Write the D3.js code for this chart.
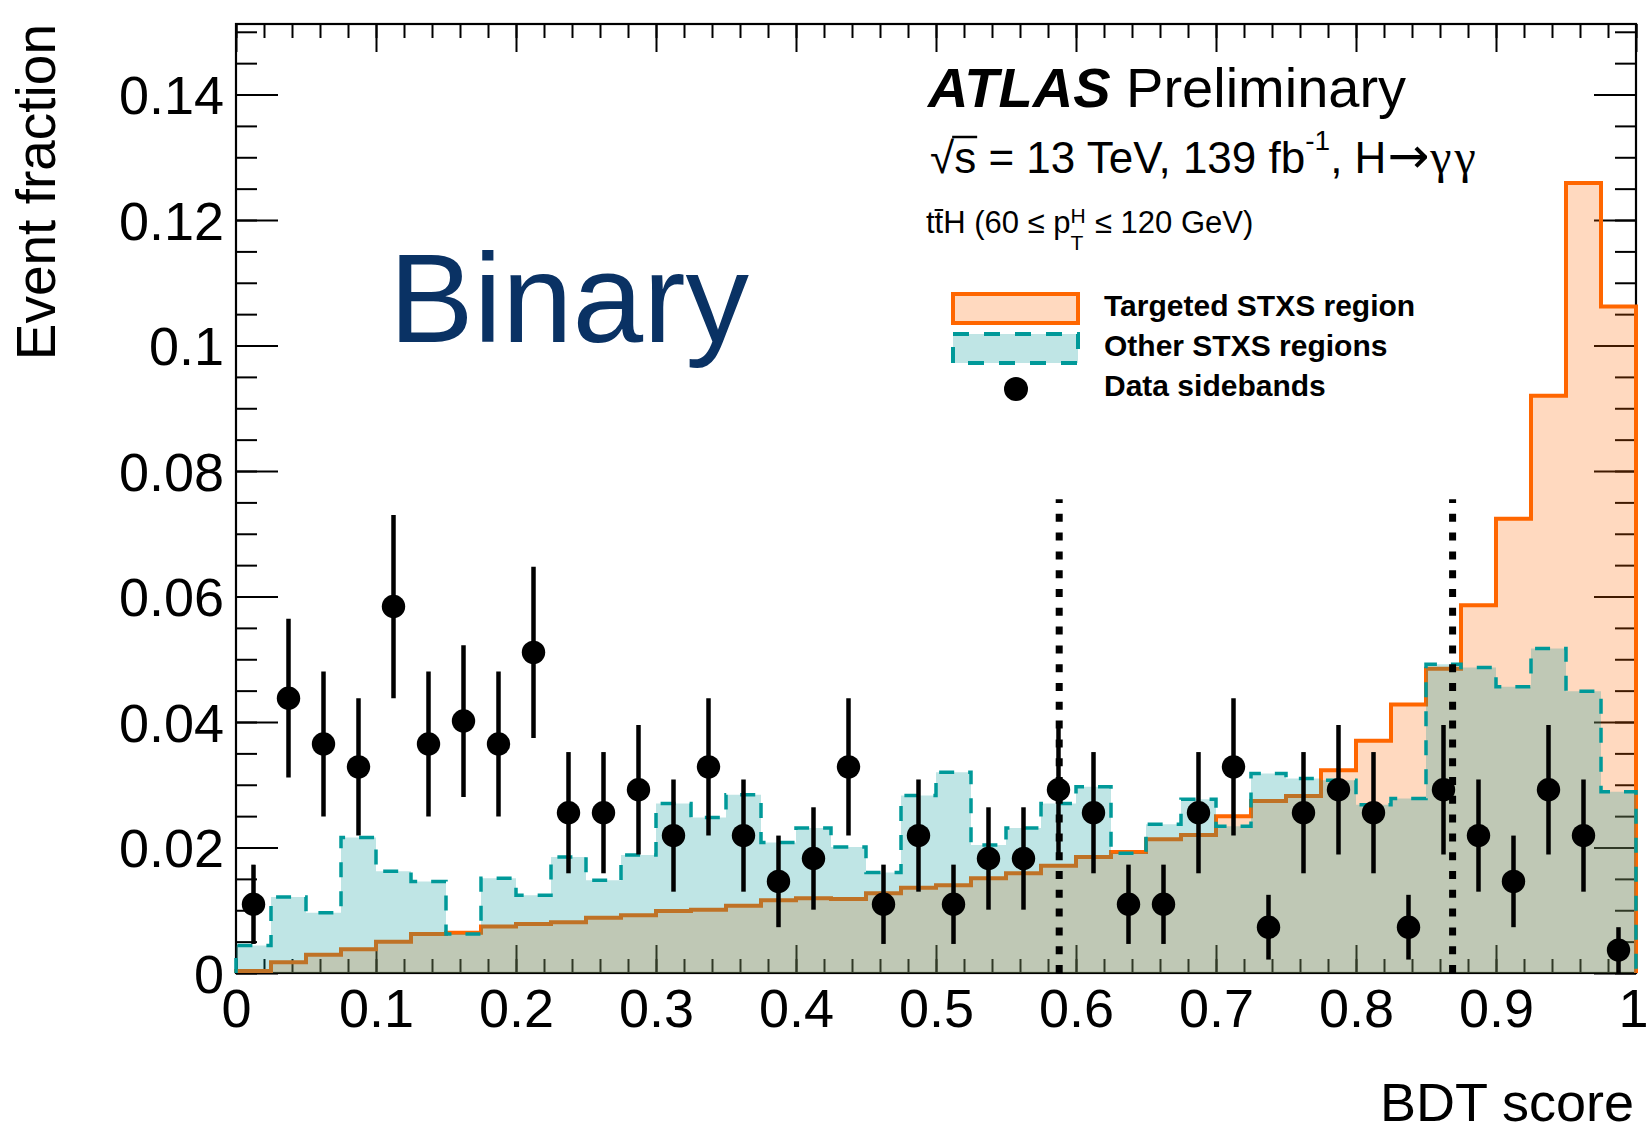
<!DOCTYPE html>
<html><head><meta charset="utf-8">
<script src="https://cdn.jsdelivr.net/npm/d3@7"></script>
<style>
html,body{margin:0;padding:0;background:#fff;}
svg{display:block;}
text{font-family:"Liberation Sans",Arial,Helvetica,sans-serif;}
</style></head><body>
<svg id="chart" width="1650" height="1134"></svg>
<script>
// ---- data ----
const binEdges = [0,0.025,0.05,0.075,0.1,0.125,0.15,0.175,0.2,0.225,0.25,0.275,0.3,0.325,0.35,0.375,0.4,0.425,0.45,0.475,0.5,0.525,0.55,0.575,0.6,0.625,0.65,0.675,0.7,0.725,0.75,0.775,0.8,0.825,0.85,0.875,0.9,0.925,0.95,0.975,1];
const targeted = [0.0003,0.0017,0.0029,0.0038,0.0050,0.0062,0.0064,0.0074,0.0078,0.0081,0.0088,0.0092,0.0099,0.0101,0.0107,0.0116,0.0119,0.0118,0.0127,0.0136,0.0140,0.0151,0.0159,0.0171,0.0185,0.0193,0.0213,0.0220,0.0250,0.0274,0.0282,0.0323,0.0370,0.0428,0.0485,0.0586,0.0724,0.0920,0.1259,0.1062];
const other = [0.0044,0.0121,0.0096,0.0216,0.0162,0.0146,0.0062,0.0151,0.0124,0.0185,0.0148,0.0188,0.0270,0.0248,0.0284,0.0208,0.0231,0.0201,0.0160,0.0283,0.0320,0.0204,0.0231,0.0270,0.0297,0.0191,0.0237,0.0277,0.0234,0.0318,0.0310,0.0307,0.0268,0.0278,0.0492,0.0487,0.0456,0.0517,0.0449,0.0289];
const dataVal = [0.01095,0.0438,0.0365,0.03285,0.0584,0.0365,0.04015,0.0365,0.0511,0.02555,0.02555,0.0292,0.0219,0.03285,0.0219,0.0146,0.01825,0.03285,0.01095,0.0219,0.01095,0.01825,0.01825,0.0292,0.02555,0.01095,0.01095,0.02555,0.03285,0.0073,0.02555,0.0292,0.02555,0.0073,0.0292,0.0219,0.0146,0.0292,0.0219,0.00365];
const dataErr = [0.00632,0.01264,0.01154,0.01095,0.0146,0.01154,0.0121,0.01154,0.01366,0.00966,0.00966,0.01032,0.00894,0.01095,0.00894,0.0073,0.00816,0.01095,0.00632,0.00894,0.00632,0.00816,0.00816,0.01032,0.00966,0.00632,0.00632,0.00966,0.01095,0.00516,0.00966,0.01032,0.00966,0.00516,0.01032,0.00894,0.0073,0.01032,0.00894,0.00365];
const cutLines = [0.588, 0.869];
const cutTop = 0.0755;
const xTicks = [0,0.1,0.2,0.3,0.4,0.5,0.6,0.7,0.8,0.9,1];
const xTickLabels = ["0","0.1","0.2","0.3","0.4","0.5","0.6","0.7","0.8","0.9","1"];
const yTicks = [0,0.02,0.04,0.06,0.08,0.1,0.12,0.14];
const yTickLabels = ["0","0.02","0.04","0.06","0.08","0.1","0.12","0.14"];
const legendLabels = ["Targeted STXS region","Other STXS regions","Data sidebands"];

// ---- layout ----
const L=236, R=1636, T=24, B=973;
const x = d3.scaleLinear().domain([0,1]).range([L,R]);
const y = d3.scaleLinear().domain([0,0.15124]).range([B,T]);
const svg = d3.select("#chart");
const ORANGE="#ff6600", TEAL="#009999";

const xMinor = d3.range(0,51).map(i=>+(i*0.02).toFixed(3));
const yMinor = d3.range(0,31).map(i=>+(i*0.005).toFixed(4));

function styleAxis(g){ g.select(".domain").remove(); g.selectAll("line").attr("stroke","#000").attr("stroke-width",2); }

// frame
svg.append("rect").attr("x",L).attr("y",T).attr("width",R-L).attr("height",B-T)
  .attr("fill","none").attr("stroke","#000").attr("stroke-width",2.2);

// minor ticks
svg.append("g").attr("transform",`translate(${L},0)`).call(d3.axisLeft(y).tickValues(yMinor).tickSize(-21).tickFormat("")).call(styleAxis);
svg.append("g").attr("transform",`translate(${R},0)`).call(d3.axisRight(y).tickValues(yMinor).tickSize(-21).tickFormat("")).call(styleAxis);
svg.append("g").attr("transform",`translate(0,${B})`).call(d3.axisBottom(x).tickValues(xMinor).tickSize(-14).tickFormat("")).call(styleAxis);
svg.append("g").attr("transform",`translate(0,${T})`).call(d3.axisTop(x).tickValues(xMinor).tickSize(-14).tickFormat("")).call(styleAxis);
// major ticks
const gL = svg.append("g").attr("transform",`translate(${L},0)`)
  .call(d3.axisLeft(y).tickValues(yTicks).tickSize(-42).tickPadding(12).tickFormat((d,i)=>yTickLabels[i])).call(styleAxis);
gL.selectAll("text").attr("font-size",54).attr("dy","0.36em").attr("fill","#000");
svg.append("g").attr("transform",`translate(${R},0)`).call(d3.axisRight(y).tickValues(yTicks).tickSize(-42).tickFormat("")).call(styleAxis);
const gB = svg.append("g").attr("transform",`translate(0,${B})`)
  .call(d3.axisBottom(x).tickValues(xTicks).tickSize(-28).tickPadding(16).tickFormat((d,i)=>xTickLabels[i])).call(styleAxis);
gB.selectAll("text").attr("font-size",54).attr("fill","#000")
  .attr("dx",(d,i)=>i===xTicks.length-1?-3:0);
svg.append("g").attr("transform",`translate(0,${T})`).call(d3.axisTop(x).tickValues(xTicks).tickSize(-28).tickFormat("")).call(styleAxis);

// histograms
function histPoints(vals){
  const pts=[[binEdges[0],0]];
  vals.forEach((v,i)=>pts.push([binEdges[i],v]));
  pts.push([binEdges[vals.length],vals[vals.length-1]]);
  pts.push([binEdges[vals.length],0]);
  return pts;
}
const line = d3.line().x(d=>x(d[0])).y(d=>y(d[1])).curve(d3.curveStepAfter);
const area = d3.area().x(d=>x(d[0])).y0(y(0)).y1(d=>y(d[1])).curve(d3.curveStepAfter);
const pT = histPoints(targeted), pO = histPoints(other);
svg.append("path").attr("d",area(pT)).attr("fill",ORANGE).attr("fill-opacity",0.25);
svg.append("path").attr("d",line(pT)).attr("fill","none").attr("stroke",ORANGE).attr("stroke-width",4);
svg.append("path").attr("d",area(pO)).attr("fill",TEAL).attr("fill-opacity",0.25);
svg.append("path").attr("d",line(pO)).attr("fill","none").attr("stroke",TEAL).attr("stroke-width",3.5).attr("stroke-dasharray","15,14");

// cut lines
svg.selectAll(".cut").data(cutLines).enter().append("line")
  .attr("x1",d=>x(d)).attr("x2",d=>x(d)).attr("y1",y(0)).attr("y2",y(cutTop))
  .attr("stroke","#000").attr("stroke-width",7).attr("stroke-dasharray","8,10.8");

// data points
const centers = dataVal.map((v,i)=>(binEdges[i]+binEdges[i+1])/2);
const gD = svg.append("g");
gD.selectAll("line").data(dataVal).enter().append("line")
  .attr("x1",(d,i)=>x(centers[i])).attr("x2",(d,i)=>x(centers[i]))
  .attr("y1",(d,i)=>y(Math.max(0,d-dataErr[i]))).attr("y2",(d,i)=>y(d+dataErr[i]))
  .attr("stroke","#000").attr("stroke-width",4.5);
gD.selectAll("circle").data(dataVal).enter().append("circle")
  .attr("cx",(d,i)=>x(centers[i])).attr("cy",d=>y(d)).attr("r",11.7).attr("fill","#000");

// axis titles
svg.append("text").attr("transform",`translate(55,${T}) rotate(-90)`).attr("text-anchor","end")
  .attr("font-size",55).text("Event fraction");
svg.append("text").attr("x",R-2).attr("y",1121).attr("text-anchor","end").attr("font-size",54).text("BDT score");

// Binary
svg.append("text").attr("x",389).attr("y",342).attr("font-size",127).attr("fill","#0a3264").text("Binary");

// ATLAS label
const ta = svg.append("text").attr("x",928).attr("y",107).attr("font-size",56);
ta.append("tspan").attr("font-weight","bold").attr("font-style","italic").text("ATLAS");
ta.append("tspan").text(" Preliminary");

// sqrt(s) line
const ts = svg.append("text").attr("x",930).attr("y",173).attr("font-size",44);
ts.append("tspan").text("\u221A");
ts.append("tspan").text("s");
ts.append("tspan").text(" = 13 TeV, 139 fb");
ts.append("tspan").attr("font-size",28).attr("dy",-23).text("-1");
ts.append("tspan").attr("dy",23).text(", H");
ts.append("tspan").attr("style","font-family:'DejaVu Sans'").attr("font-size",50).attr("dx",1).text("\u2192");
ts.append("tspan").attr("style","font-family:'Liberation Serif';letter-spacing:3px").attr("font-size",48).attr("dx",1).text("\u03B3\u03B3");
{
  const n = ts.node();
  const x0 = n.getStartPositionOfChar(1).x, x1 = n.getEndPositionOfChar(1).x;
  svg.append("line").attr("x1",x0-2).attr("x2",x1+1).attr("y1",137).attr("y2",137).attr("stroke","#000").attr("stroke-width",2.5);
}

// ttH line
const tt = svg.append("text").attr("x",926).attr("y",233).attr("font-size",31);
tt.append("tspan").text("tt");
tt.append("tspan").text("H (60 \u2264 p");
const supH = tt.append("tspan").attr("font-size",21).attr("dy",-10).text("H");
const wH = supH.node().getComputedTextLength();
tt.append("tspan").attr("font-size",21).attr("dx",-wH).attr("dy",27).text("T");
tt.append("tspan").attr("dy",-17).attr("dx",3).text(" \u2264 120 GeV)");
{
  const n = tt.node();
  const x0 = n.getStartPositionOfChar(1).x, x1 = n.getEndPositionOfChar(1).x;
  svg.append("line").attr("x1",x0).attr("x2",x1).attr("y1",210).attr("y2",210).attr("stroke","#000").attr("stroke-width",2);
}

// legend
svg.append("rect").attr("x",953).attr("y",294).attr("width",125).attr("height",29)
  .attr("fill",ORANGE).attr("fill-opacity",0.25).attr("stroke",ORANGE).attr("stroke-width",4);
svg.append("rect").attr("x",953).attr("y",334).attr("width",125).attr("height",29)
  .attr("fill",TEAL).attr("fill-opacity",0.25).attr("stroke",TEAL).attr("stroke-width",4).attr("stroke-dasharray","16,15");
svg.append("circle").attr("cx",1016).attr("cy",389).attr("r",12).attr("fill","#000");
svg.selectAll(".leg").data(legendLabels).enter().append("text")
  .attr("x",1104).attr("y",(d,i)=>316+i*40).attr("font-size",30).attr("font-weight","bold").text(d=>d);
</script>
</body></html>
